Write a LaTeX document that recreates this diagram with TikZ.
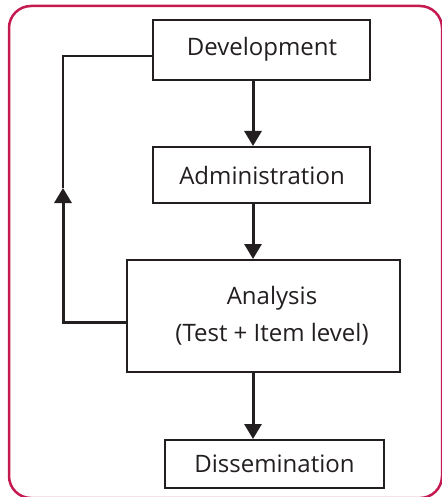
\documentclass[tikz,border=0pt]{standalone}
\usepackage{fontspec}
\setmainfont{Open Sans}
\usetikzlibrary{arrows.meta}
\definecolor{frame}{HTML}{C41A50}
\definecolor{ink}{HTML}{231F20}
\begin{document}
\begin{tikzpicture}[x=1pt,y=-1pt,
  box/.style={draw=ink,line width=2pt,fill=white,inner sep=0pt},
  lbl/.style={text=ink,inner sep=0pt,font=\fontsize{24}{29}\selectfont},
  flow/.style={draw=ink,line width=3pt,-{Triangle[width=17pt,length=15pt]}},
  thinline/.style={draw=ink,line width=2pt}]
\useasboundingbox (0,0) rectangle (441,497);
\fill[white] (0,0) rectangle (441,497);
\draw[frame,line width=2.5pt,rounded corners=22pt] (9,6) rectangle (442,498);
\node[box,minimum width=217pt,minimum height=60pt] (dev) at (261.5,50) {};
\node[lbl] (devt) at (262,49) {Development};
\node[box,minimum width=217pt,minimum height=56pt] (adm) at (261.5,175) {};
\node[lbl] (admt) at (262,175) {Administration};
\node[box,minimum width=273pt,minimum height=112pt] (ana) at (263.5,316) {};
\node[lbl,align=center] (anat) at (272,316) {Analysis\\[8pt](Test + Item level)};
\node[box,minimum width=219pt,minimum height=48pt] (dis) at (274.5,464) {};
\node[lbl] (dist) at (274.5,464) {Dissemination};
\coordinate (ax) at (253,0);
\coordinate (fbt) at (63,56);
\coordinate (fbl) at (63,322);
\coordinate (fbtip) at (63,188);
\draw[flow] (dev.south -| ax) -- (adm.north -| ax);
\draw[flow] (adm.south -| ax) -- (ana.north -| ax);
\draw[flow] (ana.south -| ax) -- (dis.north -| ax);
\draw[thinline] (dev.west |- fbt) -- (fbt) -- (fbtip);
\draw[flow] (ana.west |- fbl) -- (fbl) -- (fbtip);
\end{tikzpicture}
\end{document}
